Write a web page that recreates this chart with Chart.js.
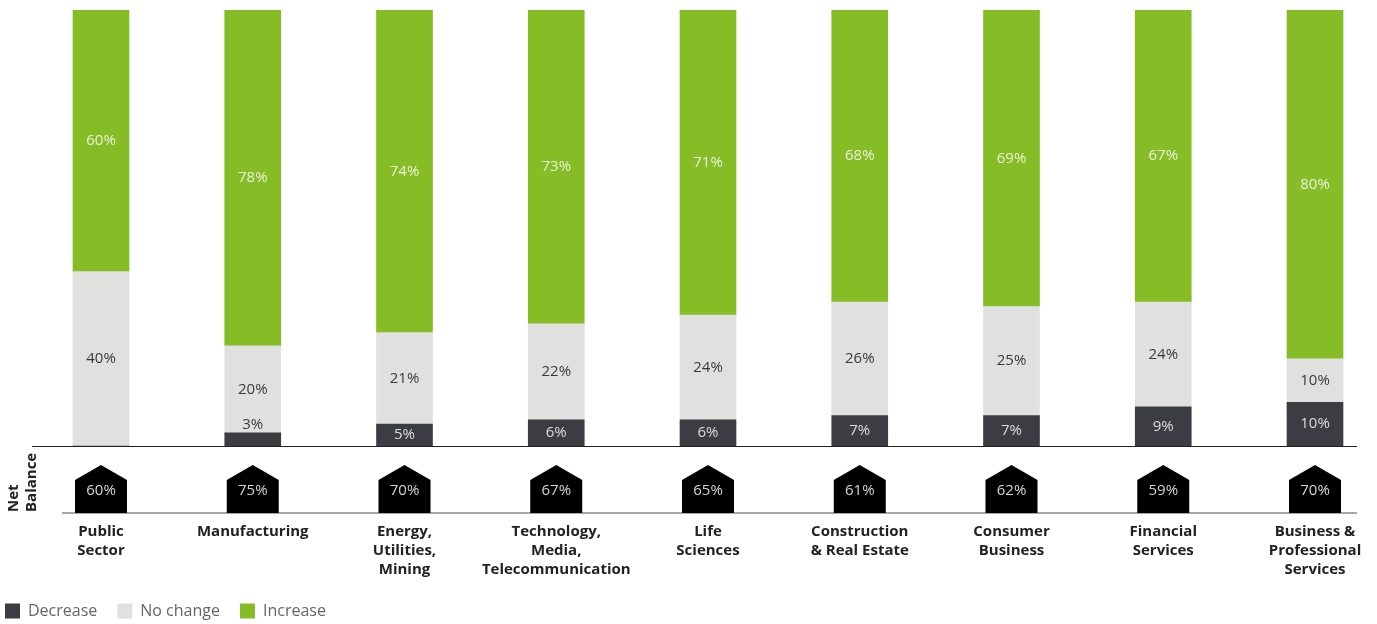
<!DOCTYPE html>
<html>
<head>
<meta charset="utf-8">
<script src="https://cdn.jsdelivr.net/npm/chart.js@4"></script>
<style>
  html, body { margin: 0; padding: 0; background: #fff; overflow: hidden; }
  #wrap { width: 1377px; height: 624px; position: relative; }
</style>
</head>
<body>
<div id="wrap"><canvas id="chart" width="1377" height="624"></canvas></div>
<script>
// Sectors and their survey shares (percent of respondents)
const categories = [
  ['Public', 'Sector'],
  ['Manufacturing'],
  ['Energy,', 'Utilities,', 'Mining'],
  ['Technology,', 'Media,', 'Telecommunication'],
  ['Life', 'Sciences'],
  ['Construction', '& Real Estate'],
  ['Consumer', 'Business'],
  ['Financial', 'Services'],
  ['Business &', 'Professional', 'Services']
];
const decrease = [0, 3, 5, 6, 6, 7, 7, 9, 10];
const noChange = [40, 20, 21, 22, 24, 26, 25, 24, 10];
const increase = [60, 78, 74, 73, 71, 68, 69, 67, 80];
const netBalance = [60, 75, 70, 67, 65, 61, 62, 59, 70];
const seriesNames = ['Decrease', 'No change', 'Increase'];

const FONT = "'Open Sans', 'Noto Sans', sans-serif";
const COLORS = { decrease: '#3c3d42', noChange: '#e0e0df', increase: '#86bc25' };
const LABEL_COLORS = ['#dcdcdc', '#3a3a3a', '#e9f2d8'];

// Percent labels inside each stacked segment
const segmentLabels = {
  id: 'segmentLabels',
  afterDatasetsDraw(chart) {
    const ctx = chart.ctx;
    const areaTop = chart.chartArea.top;
    ctx.save();
    ctx.font = '15px ' + FONT;
    ctx.textAlign = 'center';
    ctx.textBaseline = 'middle';
    chart.data.datasets.forEach((ds, di) => {
      const meta = chart.getDatasetMeta(di);
      meta.data.forEach((bar, i) => {
        const v = ds.data[i];
        if (!v) return;
        const top = Math.max(Math.min(bar.y, bar.base), areaTop);
        const bottom = Math.max(bar.y, bar.base);
        const h = bottom - top;
        let y = top + h / 2;
        let color = LABEL_COLORS[di];
        if (h < 16) {
          // too thin to hold the text: put it just above the segment
          y = top - 8;
          color = LABEL_COLORS[1];
        }
        ctx.fillStyle = color;
        ctx.fillText(v + '%', bar.x, y);
      });
    });
    ctx.restore();
  }
};

// Baseline, net-balance markers and the row caption
const netBalanceRow = {
  id: 'netBalanceRow',
  afterDraw(chart) {
    const ctx = chart.ctx;
    const area = chart.chartArea;
    const xs = chart.scales.x;
    const b = area.bottom;
    const rowBase = b + 67;
    ctx.save();
    // axis baseline
    ctx.strokeStyle = '#222';
    ctx.lineWidth = 1.2;
    ctx.beginPath();
    ctx.moveTo(32, b + 0.5);
    ctx.lineTo(1357, b + 0.5);
    ctx.stroke();
    // net balance row line
    ctx.strokeStyle = '#8a8a8a';
    ctx.lineWidth = 1.5;
    ctx.beginPath();
    ctx.moveTo(62, rowBase);
    ctx.lineTo(1357, rowBase);
    ctx.stroke();
    // markers
    netBalance.forEach((v, i) => {
      const x = xs.getPixelForValue(i);
      const hw = 26;
      ctx.fillStyle = '#000';
      ctx.beginPath();
      ctx.moveTo(x - hw, rowBase);
      ctx.lineTo(x - hw, b + 34);
      ctx.lineTo(x, b + 19);
      ctx.lineTo(x + hw, b + 34);
      ctx.lineTo(x + hw, rowBase);
      ctx.closePath();
      ctx.fill();
      ctx.fillStyle = '#d4d4d4';
      ctx.font = '15px ' + FONT;
      ctx.textAlign = 'center';
      ctx.textBaseline = 'middle';
      ctx.fillText(v + '%', x, b + 45);
    });
    // rotated caption
    ctx.fillStyle = '#222';
    ctx.font = 'bold 15px ' + FONT;
    ctx.textAlign = 'left';
    ctx.textBaseline = 'middle';
    ctx.translate(0, rowBase - 1);
    ctx.rotate(-Math.PI / 2);
    ctx.fillText('Net', 0, 14);
    ctx.fillText('Balance', 0, 32);
    ctx.restore();
  }
};

new Chart(document.getElementById('chart'), {
  type: 'bar',
  data: {
    labels: categories,
    datasets: [
      { label: seriesNames[0], data: decrease, backgroundColor: COLORS.decrease },
      { label: seriesNames[1], data: noChange, backgroundColor: COLORS.noChange },
      { label: seriesNames[2], data: increase, backgroundColor: COLORS.increase }
    ]
  },
  options: {
    responsive: false,
    animation: false,
    layout: { padding: { left: -15, right: 62, top: 10, bottom: -5 } },
    datasets: {
      bar: {
        barThickness: 56,
        borderWidth: 0,
        // stacks are kept inside the top of the plot, free at the sides
        clip: { left: false, top: 0, right: false, bottom: false }
      }
    },
    scales: {
      x: {
        stacked: true,
        offset: false,
        grid: { display: false, drawTicks: false },
        border: { display: false },
        ticks: {
          padding: 76,
          maxRotation: 0,
          autoSkip: false,
          color: '#222',
          font: { family: FONT, size: 15, weight: 'bold', lineHeight: 1.27 }
        },
        afterFit(scale) {
          scale.height = 137;
          scale.paddingLeft = 0;
          scale.paddingRight = 0;
        }
      },
      y: {
        stacked: true,
        min: 0,
        max: 100,
        grid: { display: false },
        border: { display: false },
        ticks: { display: false },
        afterFit(scale) { scale.width = 116; }
      }
    },
    plugins: {
      tooltip: { enabled: false },
      legend: {
        position: 'bottom',
        align: 'start',
        labels: {
          boxWidth: 15,
          boxHeight: 15,
          padding: 20,
          color: '#666',
          font: { family: FONT, size: 16 }
        }
      }
    }
  },
  plugins: [segmentLabels, netBalanceRow]
});
</script>
</body>
</html>
